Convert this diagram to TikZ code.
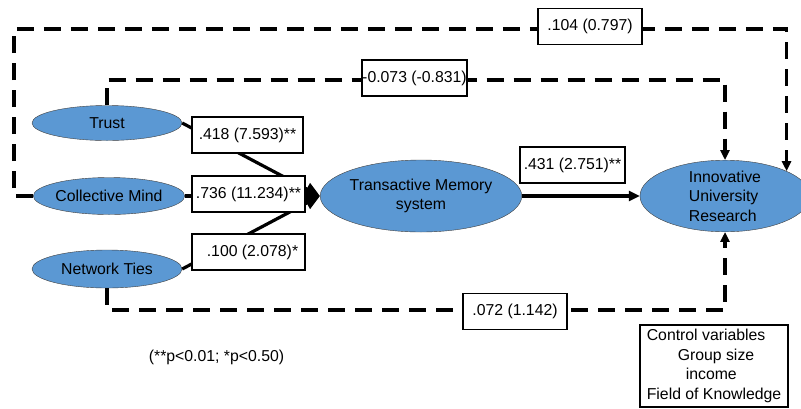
\documentclass[tikz,border=0pt]{standalone}
\usepackage{fontspec}
\setmainfont{Liberation Sans}
\usetikzlibrary{shapes.geometric,arrows.meta}
\definecolor{varblue}{RGB}{91,152,211}
\begin{document}
\begin{tikzpicture}[x=1pt,y=-1pt,
    txt/.style={font=\fontsize{15.8}{19.5}\selectfont},
    var/.style={txt,ellipse,draw=black!75,fill=varblue,inner sep=0pt,align=center},
    coef/.style={txt,draw,fill=white,line width=1.2pt,inner sep=0pt,minimum height=36pt},
    sig/.style={line width=3.2pt,-{Triangle[length=15pt,width=13pt]}},
    nonsig/.style={line width=3.5pt,dash pattern=on 17pt off 10pt,-{Triangle[length=10pt,width=9pt]}}]
    \useasboundingbox (0,0) rectangle (801,408);
    %% latent variables
    \node[var,minimum width=150pt,minimum height=35pt] (trust) at (107,123) {Trust};
    \node[var,minimum width=146pt,minimum height=37pt] (mind) at (109,196) {Collective Mind};
    \node[var,minimum width=150pt,minimum height=38pt] (ties) at (107,269) {Network Ties};
    \node[var,minimum width=183pt,minimum height=72pt] (tms) at (421,196) {Transactive Memory\\system};
    \node[var,align=left,minimum width=170pt,minimum height=71pt] (iur) at (725,196) {Innovative\\University\\Research};
    %% significant paths
    \draw[sig] (trust.east) -- (tms.west);
    \draw[sig] (mind.east) -- (tms.west);
    \draw[sig] (ties.east) -- (tms.west);
    \draw[line width=3.2pt,-{Triangle[length=11pt,width=10pt]}] (tms.east) -- (iur.west);
    %% direct paths
    \draw[nonsig] (mind.west) -- (14,196) -- (14,29) -| (iur.22);
    \draw[nonsig] (trust.north) -- (107,80) -| (iur.north);
    \draw[nonsig] (ties.south) -- (107,310) -| (iur.south);
    %% coefficients
    \node[coef,minimum width=111pt] (ctrust) at (247.5,135) {.418 (7.593)**};
    \node[coef,minimum width=113pt] (cmind) at (248.5,194) {.736 (11.234)**};
    \node[coef,minimum width=113pt] (cties) at (248.5,252) {\hspace{8pt}.100 (2.078)*};
    \node[coef,minimum width=105pt] (ctms) at (572.5,165) {.431 (2.751)**};
    \node[coef,minimum width=104pt] (cmindiur) at (590,26.5) {.104 (0.797)};
    \node[coef,minimum width=105pt] (ctrustiur) at (414.5,78) {-0.073 (-0.831)};
    \node[coef,minimum width=104pt] (ctiesiur) at (515,311.5) {.072 (1.142)};
    %% notes
    \node[txt] (note) at (216.5,357) {(**p<0.01; *p<0.50)};
    \node[txt,draw,line width=1.2pt,inner sep=0pt,minimum width=148pt,minimum height=82pt,align=left] (ctrl) at (714,366)
        {Control variables\\\hspace{31pt}Group size\\\hspace{39pt}income\\Field of Knowledge};
\end{tikzpicture}
\end{document}
